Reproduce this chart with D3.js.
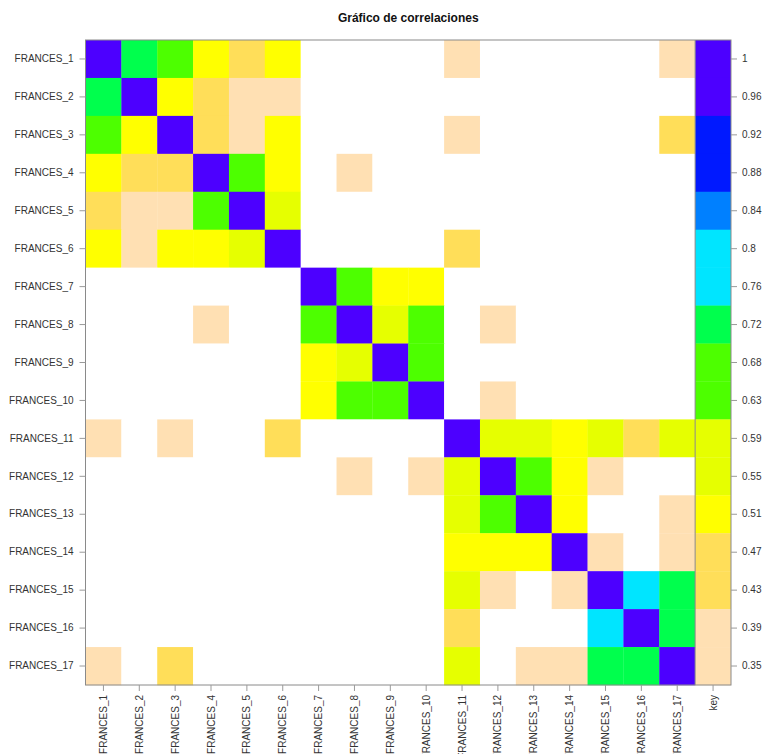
<!DOCTYPE html>
<html>
<head>
<meta charset="utf-8">
<script src="https://cdn.jsdelivr.net/npm/d3@7"></script>
<style>
  body { margin: 0; background: #fff; }
  svg { display: block; font-family: "Liberation Sans", Arial, sans-serif; }
</style>
</head>
<body>
<svg id="chart" width="763" height="754"></svg>
<script>
// ---- data ----
const variables = ["FRANCES_1","FRANCES_2","FRANCES_3","FRANCES_4","FRANCES_5","FRANCES_6","FRANCES_7","FRANCES_8","FRANCES_9","FRANCES_10","FRANCES_11","FRANCES_12","FRANCES_13","FRANCES_14","FRANCES_15","FRANCES_16","FRANCES_17"];

// estimated correlations (values below 0.35 are drawn white)
const corr = [
  [1.00,0.71,0.64,0.51,0.45,0.51,0.20,0.20,0.20,0.20,0.38,0.20,0.20,0.20,0.20,0.20,0.38],
  [0.71,1.00,0.51,0.45,0.38,0.38,0.20,0.20,0.20,0.20,0.20,0.20,0.20,0.20,0.20,0.20,0.20],
  [0.64,0.51,1.00,0.45,0.38,0.51,0.20,0.20,0.20,0.20,0.38,0.20,0.20,0.20,0.20,0.20,0.45],
  [0.51,0.45,0.45,1.00,0.64,0.51,0.20,0.38,0.20,0.20,0.20,0.20,0.20,0.20,0.20,0.20,0.20],
  [0.45,0.38,0.38,0.64,1.00,0.58,0.20,0.20,0.20,0.20,0.20,0.20,0.20,0.20,0.20,0.20,0.20],
  [0.51,0.38,0.51,0.51,0.58,1.00,0.20,0.20,0.20,0.20,0.45,0.20,0.20,0.20,0.20,0.20,0.20],
  [0.20,0.20,0.20,0.20,0.20,0.20,1.00,0.64,0.51,0.51,0.20,0.20,0.20,0.20,0.20,0.20,0.20],
  [0.20,0.20,0.20,0.38,0.20,0.20,0.64,1.00,0.58,0.64,0.20,0.38,0.20,0.20,0.20,0.20,0.20],
  [0.20,0.20,0.20,0.20,0.20,0.20,0.51,0.58,1.00,0.64,0.20,0.20,0.20,0.20,0.20,0.20,0.20],
  [0.20,0.20,0.20,0.20,0.20,0.20,0.51,0.64,0.64,1.00,0.20,0.38,0.20,0.20,0.20,0.20,0.20],
  [0.38,0.20,0.38,0.20,0.20,0.45,0.20,0.20,0.20,0.20,1.00,0.58,0.58,0.51,0.58,0.45,0.58],
  [0.20,0.20,0.20,0.20,0.20,0.20,0.20,0.38,0.20,0.38,0.58,1.00,0.64,0.51,0.38,0.20,0.20],
  [0.20,0.20,0.20,0.20,0.20,0.20,0.20,0.20,0.20,0.20,0.58,0.64,1.00,0.51,0.20,0.20,0.38],
  [0.20,0.20,0.20,0.20,0.20,0.20,0.20,0.20,0.20,0.20,0.51,0.51,0.51,1.00,0.38,0.20,0.38],
  [0.20,0.20,0.20,0.20,0.20,0.20,0.20,0.20,0.20,0.20,0.58,0.38,0.20,0.38,1.00,0.77,0.71],
  [0.20,0.20,0.20,0.20,0.20,0.20,0.20,0.20,0.20,0.20,0.45,0.20,0.20,0.20,0.77,1.00,0.71],
  [0.38,0.20,0.45,0.20,0.20,0.20,0.20,0.20,0.20,0.20,0.58,0.20,0.38,0.38,0.71,0.71,1.00]
];

const keyValues = [1, 0.959, 0.919, 0.878, 0.838, 0.797, 0.756, 0.716, 0.674, 0.634, 0.594, 0.553, 0.513, 0.472, 0.431, 0.391, 0.35];
const keyLabels = ["1","0.96","0.92","0.88","0.84","0.8","0.76","0.72","0.68","0.63","0.59","0.55","0.51","0.47","0.43","0.39","0.35"];
const keyName = "key";

const breaks = [0.35, 0.415, 0.48, 0.545, 0.61, 0.675, 0.74, 0.805, 0.87, 0.935];
const palette = ["#FFFFFF","#FFE0B3","#FFDE59","#FFFF00","#E6FF00","#4DFF00","#00FF4D","#00E5FF","#0080FF","#0019FF","#4C00FF"];

const chartTitle = "Gráfico de correlaciones";

// ---- layout ----
(function () {
const svg = d3.select("#chart");
const mLeft = 85.5, mRight = 731, mTop = 40, mBottom = 685;

const columns = variables.concat([keyName]);
const x = d3.scaleBand().domain(columns).range([mLeft, mRight]);
const y = d3.scaleBand().domain(variables).range([mTop, mBottom]);
const color = d3.scaleThreshold().domain(breaks).range(palette);

const cells = [];
corr.forEach((row, i) => row.forEach((v, j) => cells.push({r: variables[i], c: variables[j], v})));

svg.append("g").selectAll("rect").data(cells).join("rect")
  .attr("x", d => x(d.c))
  .attr("y", d => y(d.r))
  .attr("width", x.bandwidth() + 0.3)
  .attr("height", y.bandwidth() + 0.3)
  .attr("fill", d => color(d.v));

svg.append("g").selectAll("rect").data(keyValues).join("rect")
  .attr("x", x(keyName))
  .attr("y", (d, i) => y(variables[i]))
  .attr("width", x.bandwidth())
  .attr("height", y.bandwidth() + 0.3)
  .attr("fill", d => color(d));

svg.append("line")
  .attr("x1", x(keyName)).attr("x2", x(keyName))
  .attr("y1", mTop).attr("y2", mBottom)
  .attr("stroke", "#8a8a8a").attr("stroke-width", 1);

svg.append("rect")
  .attr("x", mLeft).attr("y", mTop)
  .attr("width", mRight - mLeft).attr("height", mBottom - mTop)
  .attr("fill", "none").attr("stroke", "#8a8a8a").attr("stroke-width", 1);

const axisStyle = g => {
  g.select(".domain").remove();
  g.selectAll(".tick line").attr("stroke", "#9a9a9a");
  g.selectAll(".tick text").attr("fill", "#333").style("font-size", "10px").style("font-family", "'Liberation Sans', Arial, sans-serif");
};

svg.append("g")
  .attr("transform", `translate(${mLeft},0)`)
  .call(d3.axisLeft(y).tickSize(6).tickPadding(6))
  .call(axisStyle);

const yKey = d3.scaleBand().domain(keyLabels).range([mTop, mBottom]);
svg.append("g")
  .attr("transform", `translate(${mRight},0)`)
  .call(d3.axisRight(yKey).tickSize(6).tickPadding(5))
  .call(axisStyle);

const xAxis = svg.append("g")
  .attr("transform", `translate(0,${mBottom})`)
  .call(d3.axisBottom(x).tickSize(6).tickPadding(4))
  .call(axisStyle);
xAxis.selectAll(".tick text")
  .attr("transform", "rotate(-90)")
  .attr("text-anchor", "end")
  .attr("x", -10)
  .attr("y", 0)
  .attr("dy", "0.35em");

svg.append("text")
  .attr("x", (mLeft + mRight) / 2)
  .attr("y", 22)
  .attr("text-anchor", "middle")
  .attr("fill", "#111")
  .style("font-weight", "bold")
  .style("font-size", "12px")
  .text(chartTitle);
})();
</script>
</body>
</html>
